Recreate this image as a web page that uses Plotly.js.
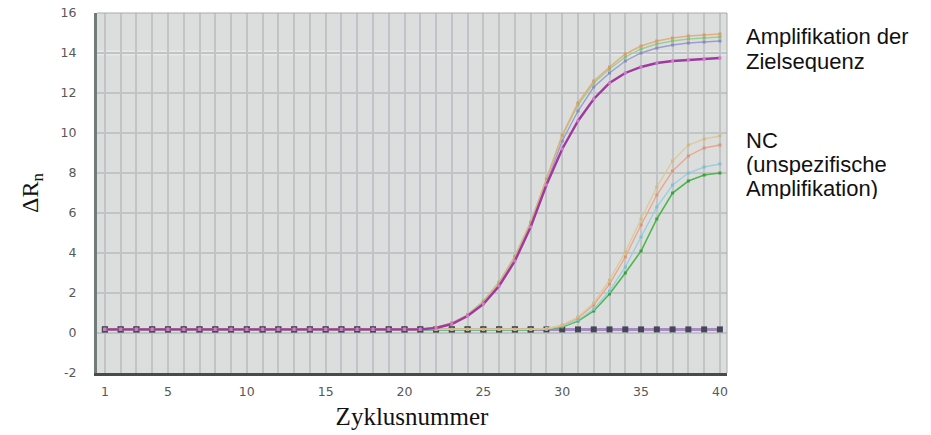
<!DOCTYPE html>
<html>
<head>
<meta charset="utf-8">
<script src="https://cdn.plot.ly/plotly-3.0.1.min.js"></script>
<style>
html,body{margin:0;padding:0;background:#fff;}
#chart{width:931px;height:435px;}
</style>
</head>
<body>
<div id="chart"></div>
<script>
// ---- data ----
const cycles = [1,2,3,4,5,6,7,8,9,10,11,12,13,14,15,16,17,18,19,20,21,22,23,24,25,26,27,28,29,30,31,32,33,34,35,36,37,38,39,40];

const xTickVals = [1,5,10,15,20,25,30,35,40];
const xTickText = ["1","5","10","15","20","25","30","35","40"];
const yTickVals = [-2,0,2,4,6,8,10,12,14,16];
const yTickText = ["-2","0","2","4","6","8","10","12","14","16"];

// target amplification (Zielsequenz)
const targetOrange = [0.18,0.18,0.18,0.18,0.18,0.18,0.18,0.18,0.18,0.18,0.18,0.18,0.18,0.18,0.18,0.18,0.18,0.18,0.18,0.18,0.18,
  0.28,0.5,0.9,1.55,2.5,3.8,5.5,7.7,9.9,11.5,12.6,13.3,13.95,14.35,14.6,14.75,14.85,14.9,14.95];
const targetGreen = [0.18,0.18,0.18,0.18,0.18,0.18,0.18,0.18,0.18,0.18,0.18,0.18,0.18,0.18,0.18,0.18,0.18,0.18,0.18,0.18,0.18,
  0.28,0.5,0.92,1.6,2.55,3.85,5.55,7.7,9.85,11.4,12.5,13.2,13.8,14.2,14.45,14.6,14.7,14.75,14.8];
const targetBlue = [0.18,0.18,0.18,0.18,0.18,0.18,0.18,0.18,0.18,0.18,0.18,0.18,0.18,0.18,0.18,0.18,0.18,0.18,0.18,0.18,0.18,
  0.27,0.48,0.88,1.52,2.45,3.75,5.4,7.5,9.6,11.1,12.3,13.0,13.6,14.0,14.25,14.4,14.5,14.55,14.6];
const targetPurple = [0.18,0.18,0.18,0.18,0.18,0.18,0.18,0.18,0.18,0.18,0.18,0.18,0.18,0.18,0.18,0.18,0.18,0.18,0.18,0.18,0.18,
  0.25,0.45,0.85,1.45,2.35,3.6,5.3,7.4,9.2,10.6,11.7,12.5,13.0,13.3,13.5,13.6,13.65,13.7,13.75];

// NC (unspecific amplification)
const ncTan = [0.18,0.18,0.18,0.18,0.18,0.18,0.18,0.18,0.18,0.18,0.18,0.18,0.18,0.18,0.18,0.18,0.18,0.18,0.18,0.18,0.18,0.18,0.18,0.18,0.18,0.18,0.18,0.18,
  0.22,0.4,0.8,1.5,2.65,4.05,5.7,7.3,8.6,9.4,9.7,9.85];
const ncOrange = [0.18,0.18,0.18,0.18,0.18,0.18,0.18,0.18,0.18,0.18,0.18,0.18,0.18,0.18,0.18,0.18,0.18,0.18,0.18,0.18,0.18,0.18,0.18,0.18,0.18,0.18,0.18,0.18,
  0.2,0.38,0.75,1.4,2.45,3.8,5.4,6.9,8.1,8.85,9.25,9.4];
const ncBlue = [0.18,0.18,0.18,0.18,0.18,0.18,0.18,0.18,0.18,0.18,0.18,0.18,0.18,0.18,0.18,0.18,0.18,0.18,0.18,0.18,0.18,0.18,0.18,0.18,0.18,0.18,0.18,0.18,
  0.2,0.35,0.65,1.2,2.1,3.3,4.8,6.3,7.4,8.0,8.3,8.45];
const ncGreen = [0.18,0.18,0.18,0.18,0.18,0.18,0.18,0.18,0.18,0.18,0.18,0.18,0.18,0.18,0.18,0.18,0.18,0.18,0.18,0.18,0.18,0.18,0.18,0.18,0.18,0.18,0.18,0.18,
  0.18,0.3,0.6,1.1,1.95,3.0,4.1,5.7,7.0,7.6,7.9,8.0];

// no-template baselines
const ntcPurple = [0.18,0.18,0.18,0.18,0.18,0.18,0.18,0.18,0.18,0.18,0.18,0.18,0.18,0.18,0.18,0.18,0.18,0.18,0.18,0.18,0.18,0.18,0.18,0.18,0.18,0.18,0.18,0.18,0.18,0.18,0.18,0.18,0.18,0.18,0.18,0.18,0.18,0.18,0.18,0.18];
const ntcTeal = [0.18,0.18,0.18,0.18,0.18,0.18,0.18,0.18,0.18,0.18,0.18,0.18,0.18,0.18,0.18,0.18,0.18,0.18,0.18,0.18,0.18,0.18,0.18,0.18,0.18,0.18,0.18,0.18,null,null,null,null,null,null,null,null,null,null,null,null];

const labelTarget = ["Amplifikation der","Zielsequenz"];
const labelNC = ["NC","(unspezifische","Amplifikation)"];

// ---- traces ----
function curve(y, color, width, mcolor, msize){
  return {x: cycles, y: y, type:'scatter', mode:'lines+markers',
    line:{color:color, width:width, shape:'linear'},
    marker:{color:mcolor, size:msize, symbol:'square'},
    hoverinfo:'skip', showlegend:false};
}

const traces = [
  curve(ntcPurple, '#a98bc4', 3, '#46465a', 6),
  curve(ntcTeal, '#86b5ad', 3, '#414d4d', 6),
  curve(ncGreen, '#4cb84c', 1.6, '#3e9e3e', 3),
  curve(ncBlue, '#9ccfdc', 1.4, '#84bccb', 3),
  curve(ncOrange, '#e8a88a', 1.4, '#d99578', 3),
  curve(ncTan, '#ddc99a', 1.4, '#cdb888', 3),
  curve(targetBlue, '#9c9cd0', 1.4, '#8a8ac0', 3),
  curve(targetGreen, '#9ccf90', 1.4, '#86bd7a', 3),
  curve(targetOrange, '#e0b080', 1.6, '#cf9e70', 3),
  curve(targetPurple, '#9e3a9e', 2.4, '#d07ad0', 3)
];

const annFont = {family:'"Liberation Sans", Arial, sans-serif', size:22, color:'#111'};
const annotations = [];
const targetY = [0.936, 0.866];
labelTarget.forEach((t,i)=>annotations.push({xref:'paper', yref:'paper', x:1.028, y:targetY[i],
  xanchor:'left', yanchor:'middle', showarrow:false, text:t, font:annFont, align:'left',
  height:22, borderpad:0, valign:'middle'}));
const ncY = [0.647, 0.581, 0.514];
labelNC.forEach((t,i)=>annotations.push({xref:'paper', yref:'paper', x:1.028, y:ncY[i],
  xanchor:'left', yanchor:'middle', showarrow:false, text:t, font:annFont, align:'left',
  height:22, borderpad:0, valign:'middle'}));

const tickFont = {family:'"DejaVu Sans", sans-serif', size:12.5, color:'#585858'};

const layout = {
  width:931, height:435,
  margin:{l:97, r:204, t:13, b:62, pad:0},
  paper_bgcolor:'#ffffff',
  plot_bgcolor:'#dcdede',
  showlegend:false,
  xaxis:{
    range:[0.5, 40.45],
    tickmode:'array', tickvals:xTickVals, ticktext:xTickText,
    ticks:'outside', ticklen:5, tickcolor:'rgba(0,0,0,0)',
    tickfont:tickFont,
    showgrid:true, gridcolor:'#c1c4c4', gridwidth:2,
    minor:{tickmode:'linear', tick0:0, dtick:1, showgrid:true, gridcolor:'#c1c4c4', gridwidth:2, ticks:''},
    zeroline:false,
    showline:true, linecolor:'#4a4a4a', linewidth:3,
    title:{text:'Zyklusnummer', font:{family:'"Liberation Serif", "Times New Roman", serif', size:25, color:'#111'}, standoff:10}
  },
  yaxis:{
    range:[-2, 16],
    tickmode:'array', tickvals:yTickVals, ticktext:yTickText,
    ticks:'outside', ticklen:15, tickcolor:'rgba(0,0,0,0)',
    tickfont:tickFont,
    showgrid:true, gridcolor:'#c1c4c4', gridwidth:1.5,
    zeroline:false,
    showline:true, linecolor:'#6f7c7a', linewidth:3,
    title:{text:'ΔR<sub>n</sub>', font:{family:'"Liberation Serif", "Times New Roman", serif', size:24, color:'#111'}, standoff:16}
  },
  shapes:[
    {type:'line', xref:'paper', yref:'y', x0:0, x1:1, y0:14, y1:14, layer:'between', line:{color:'#e6e8e8', width:5}},
    {type:'line', xref:'paper', yref:'paper', x0:0, x1:1, y0:1, y1:1, layer:'above', line:{color:'#a8abab', width:1}},
    {type:'line', xref:'paper', yref:'paper', x0:1, x1:1, y0:0, y1:1, layer:'above', line:{color:'#a8abab', width:1}}
  ],
  annotations:annotations
};

Plotly.newPlot('chart', traces, layout, {displayModeBar:false, staticPlot:true});
</script>
</body>
</html>
